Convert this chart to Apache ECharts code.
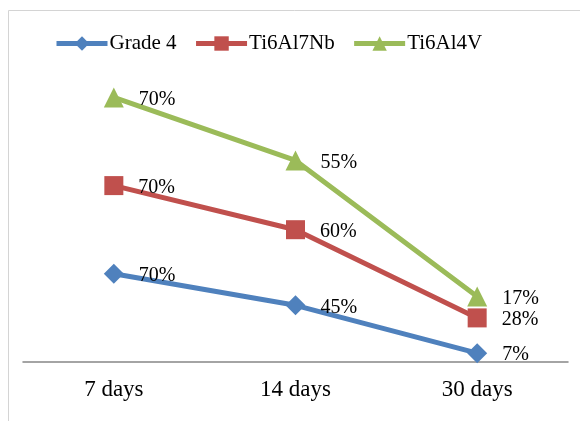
<!DOCTYPE html>
<html>
<head>
<meta charset="utf-8">
<style>
  html, body { margin: 0; padding: 0; background: #fff; }
  #chart { width: 580px; height: 421px; }
</style>
<script src="https://cdn.jsdelivr.net/npm/echarts@6/dist/echarts.min.js"></script>
</head>
<body>
<div id="chart"></div>
<script>
// Categories along the x axis
const periods = ['7 days', '14 days', '30 days'];

// Series values (percent); lines are stacked on top of each other
const grade4 = [70, 45, 7];
const ti6al7nb = [70, 60, 28];
const ti6al4v = [70, 55, 17];

const seriesNames = ['Grade 4', 'Ti6Al7Nb', 'Ti6Al4V'];
const seriesColors = ['#4F81BD', '#C0504D', '#9BBB59'];

const font = '"Liberation Serif", "Times New Roman", serif';

function lineSeries(name, data, color, symbol, size) {
  return {
    name: name,
    type: 'line',
    stack: 'total',
    data: data,
    symbol: symbol,
    symbolSize: size,
    lineStyle: { color: color, width: 5 },
    itemStyle: { color: color },
    label: {
      show: true,
      position: 'right',
      distance: 15,
      offset: [0, 2],
      formatter: p => p.value + '%',
      color: '#000',
      fontFamily: font,
      fontSize: 20
    },
    emphasis: { disabled: true },
    animation: false
  };
}

const chart = echarts.init(document.getElementById('chart'));
chart.setOption({
  backgroundColor: '#fff',
  graphic: [{
    type: 'rect',
    shape: { x: 8.5, y: 10.5, width: 620, height: 500 },
    style: { fill: 'none', stroke: '#D4D4D4', lineWidth: 1 },
    silent: true
  }],
  legend: {
    left: 54,
    top: 33,
    padding: 0,
    itemWidth: 51,
    itemHeight: 18,
    itemGap: 17,
    lineStyle: { width: 5 },
    textStyle: { fontFamily: font, fontSize: 21, color: '#000', padding: [0, 0, 0, -3] },
    data: seriesNames
  },
  grid: { left: 23, right: 12, top: 47, bottom: 59, containLabel: false },
  xAxis: {
    type: 'category',
    data: periods,
    boundaryGap: true,
    axisLine: { lineStyle: { color: '#868686', width: 1.5 } },
    axisTick: { show: false },
    axisLabel: { fontFamily: font, fontSize: 23, color: '#000', margin: 16 }
  },
  yAxis: {
    type: 'value',
    min: 0,
    max: 250,
    show: false,
    splitLine: { show: false }
  },
  series: [
    lineSeries(seriesNames[0], grade4, seriesColors[0], 'diamond', 20),
    lineSeries(seriesNames[1], ti6al7nb, seriesColors[1], 'rect', 19),
    lineSeries(seriesNames[2], ti6al4v, seriesColors[2], 'triangle', 20)
  ]
});
</script>
</body>
</html>
